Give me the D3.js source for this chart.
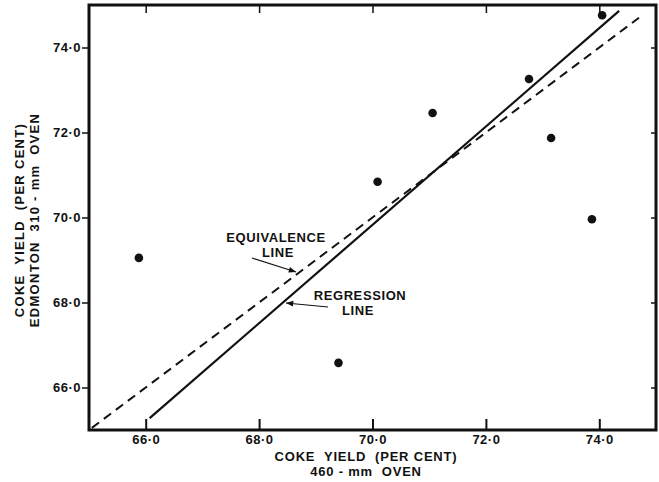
<!DOCTYPE html>
<html>
<head>
<meta charset="utf-8">
<script src="https://cdn.jsdelivr.net/npm/d3@7.9.0/dist/d3.min.js"></script>
<style>
  body { margin: 0; background: #fff; }
  svg text { font-family: "Liberation Sans", "DejaVu Sans", sans-serif; font-weight: bold; fill: #111; white-space: pre; }
</style>
</head>
<body>
<svg id="chart" width="659" height="482"></svg>
<script>
// coke yield, 460-mm oven (x) vs Edmonton 310-mm oven (y)
const yield460 = [65.88, 69.40, 70.09, 71.06, 72.76, 73.15, 73.87, 74.05];
const yield310 = [69.05, 66.58, 70.84, 72.46, 73.26, 71.87, 69.96, 74.76];

const tickValues = [66, 68, 70, 72, 74];
const tickLabels = ["66·0", "68·0", "70·0", "72·0", "74·0"];

// line end points
const regressionX = [66.07, 74.35];
const regressionY = [65.28, 74.86];
const equivalenceX = [65.05, 74.7];
const equivalenceY = [65.05, 74.7];

const svg = d3.select('#chart');

const x = d3.scaleLinear().domain([65, 75]).range([89, 656]);
const y = d3.scaleLinear().domain([65, 75]).range([430, 5]);

const labelOf = d => tickLabels[tickValues.indexOf(d)];

// x axis: ticks pointing up into the plot, labels below
const xAxis = svg.append('g')
  .attr('transform', 'translate(0,430)')
  .call(d3.axisBottom(x).tickValues(tickValues).tickFormat(labelOf)
    .tickSizeInner(-11).tickSizeOuter(0).tickPadding(5));
xAxis.select('.domain').remove();
xAxis.selectAll('line').attr('stroke', '#111').attr('stroke-width', 2);
xAxis.selectAll('text').attr('font-size', 13).attr('fill', '#111')
  .attr('font-family', null).attr('letter-spacing', 0.5);

// top: inward ticks only
const xTop = svg.append('g')
  .attr('transform', 'translate(0,5)')
  .call(d3.axisTop(x).tickValues(tickValues).tickFormat('').tickSizeInner(-8).tickSizeOuter(0));
xTop.select('.domain').remove();
xTop.selectAll('line').attr('stroke', '#111').attr('stroke-width', 1.5);

// y axis: ticks out to the left
const yAxis = svg.append('g')
  .attr('transform', 'translate(89,0)')
  .call(d3.axisLeft(y).tickValues(tickValues).tickFormat(labelOf)
    .tickSizeInner(7).tickSizeOuter(0).tickPadding(1));
yAxis.select('.domain').remove();
yAxis.selectAll('line').attr('stroke', '#111').attr('stroke-width', 1.5);
yAxis.selectAll('text').attr('font-size', 13).attr('fill', '#111')
  .attr('font-family', null).attr('letter-spacing', 0.5);

// right: small inward ticks
const yRight = svg.append('g')
  .attr('transform', 'translate(656,0)')
  .call(d3.axisRight(y).tickValues(tickValues).tickFormat('').tickSizeInner(-5).tickSizeOuter(0));
yRight.select('.domain').remove();
yRight.selectAll('line').attr('stroke', '#111').attr('stroke-width', 1.5);

// frame
svg.append('rect')
  .attr('x', 89).attr('y', 5)
  .attr('width', 656 - 89).attr('height', 430 - 5)
  .attr('fill', 'none').attr('stroke', '#111').attr('stroke-width', 3);

const line = d3.line().x(d => x(d[0])).y(d => y(d[1]));

svg.append('path')
  .attr('d', line(d3.zip(equivalenceX, equivalenceY)))
  .attr('fill', 'none').attr('stroke', '#111').attr('stroke-width', 2)
  .attr('stroke-dasharray', '9,6');

svg.append('path')
  .attr('d', line(d3.zip(regressionX, regressionY)))
  .attr('fill', 'none').attr('stroke', '#111').attr('stroke-width', 2.2);

svg.append('g').selectAll('circle')
  .data(d3.zip(yield460, yield310))
  .join('circle')
  .attr('cx', d => x(d[0]))
  .attr('cy', d => y(d[1]))
  .attr('r', 4.3)
  .attr('fill', '#111');

// annotations
svg.append('defs').append('marker')
  .attr('id', 'arrow').attr('viewBox', '0 0 10 10')
  .attr('refX', 10).attr('refY', 5)
  .attr('markerWidth', 8).attr('markerHeight', 6)
  .attr('orient', 'auto')
  .append('path').attr('d', 'M0,1 L10,5 L0,9 Z').attr('fill', '#111');

// two-line label as one text element
function note(lines, cx, by, opts = {}) {
  const gap = opts.gap || 15;
  const t = svg.append('text')
    .attr('text-anchor', 'middle')
    .attr('font-size', opts.size || 13)
    .attr('letter-spacing', opts.ls || 0.6);
  if (opts.rotate) t.attr('transform', `translate(${cx},${by}) rotate(-90)`);
  lines.forEach((s, i) => {
    t.append('tspan')
      .attr('x', opts.rotate ? 0 : cx + (s.dx || 0))
      .attr('y', opts.rotate ? i * gap : by + i * gap)
      .text(s.t);
  });
  return t;
}

note([{ t: 'EQUIVALENCE' }, { t: 'LINE', dx: 2 }], 276, 242);
svg.append('line')
  .attr('x1', 252).attr('y1', 258).attr('x2', 296).attr('y2', 272)
  .attr('stroke', '#111').attr('stroke-width', 1.2).attr('marker-end', 'url(#arrow)');

note([{ t: 'REGRESSION' }, { t: 'LINE', dx: -2 }], 360, 300);
svg.append('line')
  .attr('x1', 328).attr('y1', 307).attr('x2', 286).attr('y2', 303)
  .attr('stroke', '#111').attr('stroke-width', 1.2).attr('marker-end', 'url(#arrow)');

// axis titles
note([{ t: 'COKE  YIELD  (PER CENT)' }, { t: '460 - mm  OVEN' }], 366, 461, { ls: 0.8 });
note([{ t: 'COKE  YIELD  (PER CENT)' }, { t: 'EDMONTON  310 - mm  OVEN' }], 24, 220, { rotate: true, ls: 1.3 });
</script>
</body>
</html>
